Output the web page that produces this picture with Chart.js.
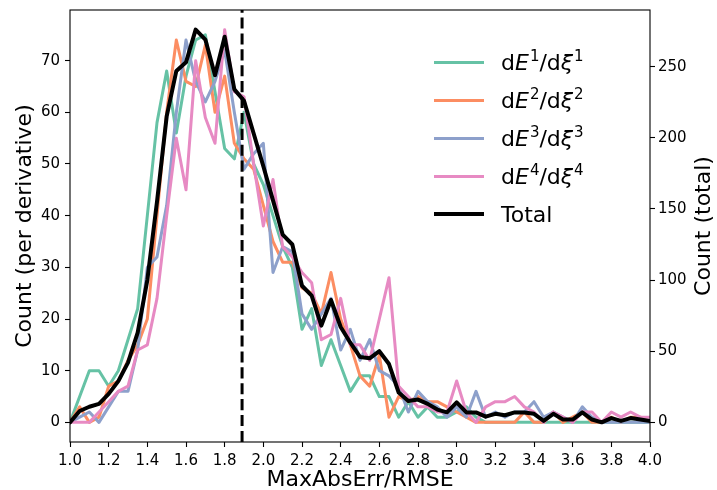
<!DOCTYPE html>
<html>
<head>
<meta charset="utf-8">
<script src="https://cdn.jsdelivr.net/npm/chart.js@4/dist/chart.umd.min.js"></script>
<style>
  html, body { margin: 0; padding: 0; background: #fff; }
  #wrap { position: relative; width: 717px; height: 490px; }
  #legend { position: absolute; left: 434px; top: 43px; font-family: "DejaVu Sans"; font-size: 22px; color: #000; }
  .row { display: flex; align-items: center; height: 38px; white-space: nowrap; }
  .swatch { width: 50px; margin-right: 17px; }
  .sup { font-size: 15px; position: relative; top: -9px; margin-left: 1px; }
  .it { font-style: italic; }
</style>
</head>
<body>
<div id="wrap">
  <canvas id="c" width="717" height="490"></canvas>
  <div id="legend"></div>
</div>
<script>
// Histogram bin positions of MaxAbsErr/RMSE
const bins = [1.00,1.05,1.10,1.15,1.20,1.25,1.30,1.35,1.40,1.45,1.50,1.55,1.60,1.65,1.70,1.75,1.80,1.85,1.90,1.95,
              2.00,2.05,2.10,2.15,2.20,2.25,2.30,2.35,2.40,2.45,2.50,2.55,2.60,2.65,2.70,2.75,2.80,2.85,2.90,2.95,
              3.00,3.05,3.10,3.15,3.20,3.25,3.30,3.35,3.40,3.45,3.50,3.55,3.60,3.65,3.70,3.75,3.80,3.85,3.90,3.95,4.00];

// Counts per derivative
const countD1 = [0,5,10,10,7,10,16,22,40,58,68,56,67,74,75,64,53,51,60,50,
                 46,40,34,30,18,22,11,16,11,6,9,9,5,5,1,4,1,3,1,1,
                 2,3,1,0,0,0,0,0,0,0,0,0,0,0,0,0,0,0,0,0,0];
const countD2 = [0,3,0,1,7,8,12,15,20,40,60,74,66,65,73,60,67,54,51,49,
                 42,35,31,31,26,25,21,29,20,15,9,7,13,1,5,4,5,4,4,3,
                 2,1,0,0,0,0,0,2,0,0,2,0,1,2,0,0,1,0,1,1,0];
const countD3 = [0,1,2,0,3,6,6,14,30,32,42,60,74,66,62,66,72,60,49,52,
                 54,29,34,33,21,18,21,24,14,18,12,16,10,9,7,2,6,4,3,1,
                 3,1,6,1,2,1,2,2,4,1,2,1,0,3,1,0,0,0,0,0,0];
const countD4 = [0,0,0,2,4,6,7,14,15,24,40,55,45,70,59,54,76,64,63,50,
                 38,47,34,32,29,27,16,17,24,15,15,12,20,28,7,5,3,3,2,2,
                 8,2,0,3,4,4,5,3,2,0,2,1,0,2,2,0,2,1,2,1,1];
// Total count over all derivatives
const countTotal = [0,8,11,13,20,29,42,63,100,155,215,247,253,276,269,244,271,234,226,203,
                    180,156,132,125,96,89,68,86,67,56,46,45,50,41,21,15,16,13,9,7,
                    14,7,7,4,6,5,7,7,6,1,6,2,2,7,2,0,3,1,3,2,1];

// Vertical reference threshold
const threshold = 1.89;

// Tick labels
const xTicks = [1.0,1.2,1.4,1.6,1.8,2.0,2.2,2.4,2.6,2.8,3.0,3.2,3.4,3.6,3.8,4.0];
const yLeftTicks = [0,10,20,30,40,50,60,70];
const yRightTicks = [0,50,100,150,200,250];

const FONT = '"DejaVu Sans"';
const pts = arr => arr.map((v, i) => ({ x: bins[i], y: v }));

const seriesDefs = [
  { k: '1', data: countD1, color: '#66c2a5', order: 4 },
  { k: '2', data: countD2, color: '#fc8d62', order: 3 },
  { k: '3', data: countD3, color: '#8da0cb', order: 2 },
  { k: '4', data: countD4, color: '#e78ac3', order: 1 },
];

const datasets = seriesDefs.map(s => ({
  label: 'dE' + s.k + '/dξ' + s.k,
  idx: s.k,
  data: pts(s.data),
  borderColor: s.color,
  backgroundColor: s.color,
  borderWidth: 3,
  pointRadius: 0,
  tension: 0,
  borderJoinStyle: 'round',
  borderCapStyle: 'round',
  yAxisID: 'y',
  order: s.order,
  clip: 0
}));
datasets.push({
  label: 'Total',
  data: pts(countTotal),
  borderColor: '#000',
  backgroundColor: '#000',
  borderWidth: 4,
  pointRadius: 0,
  tension: 0,
  borderJoinStyle: 'round',
  borderCapStyle: 'round',
  yAxisID: 'y2',
  order: 0,
  clip: 0
});

const tickFont = { family: FONT, size: 15 };
const tickGrid = { drawOnChartArea: false, drawTicks: true, tickLength: 5, tickColor: '#000', tickWidth: 1.1 };

// Fixed scale sizes so the plot area sits at a set place
const fixSize = (w, h) => s => {
  if (w !== null) s.width = w;
  if (h !== null) s.height = h;
  s.paddingTop = 0; s.paddingBottom = 0; s.paddingLeft = 0; s.paddingRight = 0;
};

// Frame, dashed threshold and axis titles
const decor = {
  id: 'decor',
  afterDatasetsDraw(chart) {
    const { ctx, chartArea: a, scales } = chart;
    const xp = scales.x.getPixelForValue(threshold);
    ctx.save();
    ctx.beginPath();
    ctx.rect(a.left, a.top, a.right - a.left, a.bottom - a.top);
    ctx.clip();
    ctx.strokeStyle = '#000';
    ctx.lineWidth = 3;
    ctx.setLineDash([11.1, 4.8]);
    ctx.beginPath();
    ctx.moveTo(xp, a.bottom);
    ctx.lineTo(xp, a.top);
    ctx.stroke();
    ctx.restore();
  },
  afterDraw(chart) {
    const { ctx, chartArea: a } = chart;
    ctx.save();
    ctx.strokeStyle = '#000';
    ctx.lineWidth = 1.1;
    ctx.strokeRect(a.left, a.top, a.right - a.left, a.bottom - a.top);
    ctx.fillStyle = '#000';
    ctx.font = '22px ' + FONT;
    ctx.textAlign = 'center';
    ctx.textBaseline = 'middle';
    const cy = (a.top + a.bottom) / 2;
    ctx.fillText('MaxAbsErr/RMSE', (a.left + a.right) / 2, 480);
    ctx.save();
    ctx.translate(25, cy);
    ctx.rotate(-Math.PI / 2);
    ctx.fillText('Count (per derivative)', 0, 0);
    ctx.restore();
    ctx.save();
    ctx.translate(704, cy);
    ctx.rotate(-Math.PI / 2);
    ctx.fillText('Count (total)', 0, 0);
    ctx.restore();
    ctx.restore();
  }
};

const chart = new Chart(document.getElementById('c'), {
  type: 'line',
  data: { datasets },
  plugins: [decor],
  options: {
    responsive: false,
    animation: false,
    devicePixelRatio: 1,
    events: [],
    layout: { padding: { top: 10, left: 0, right: 0, bottom: 0 } },
    plugins: { legend: { display: false }, tooltip: { enabled: false }, title: { display: false } },
    scales: {
      x: {
        type: 'linear', min: 1, max: 4,
        afterBuildTicks: s => { s.ticks = xTicks.map(v => ({ value: v })); },
        afterFit: fixSize(null, 48),
        ticks: { callback: v => Number(v).toFixed(1), font: tickFont, color: '#000', padding: 5, maxRotation: 0, autoSkip: false },
        grid: tickGrid,
        border: { display: false }
      },
      y: {
        position: 'left', min: -3.8, max: 79.8,
        afterBuildTicks: s => { s.ticks = yLeftTicks.map(v => ({ value: v })); },
        afterFit: fixSize(70, null),
        ticks: { font: tickFont, color: '#000', padding: 5 },
        grid: tickGrid,
        border: { display: false }
      },
      y2: {
        position: 'right', min: -13.8, max: 289.8,
        afterBuildTicks: s => { s.ticks = yRightTicks.map(v => ({ value: v })); },
        afterFit: fixSize(67, null),
        ticks: { font: tickFont, color: '#000', padding: 3 },
        grid: tickGrid,
        border: { display: false }
      }
    }
  }
});

// Legend with math-styled labels, built from the datasets
const legendEl = document.getElementById('legend');
chart.data.datasets.forEach(ds => {
  const row = document.createElement('div');
  row.className = 'row';
  const sw = document.createElement('span');
  sw.className = 'swatch';
  sw.style.height = ds.borderWidth + 'px';
  sw.style.background = ds.borderColor;
  row.appendChild(sw);
  const txt = document.createElement('span');
  if (ds.idx) {
    txt.innerHTML = 'd<span class="it">E</span><span class="sup">' + ds.idx + '</span>/d<span class="it">ξ</span><span class="sup">' + ds.idx + '</span>';
  } else {
    txt.textContent = ds.label;
  }
  row.appendChild(txt);
  legendEl.appendChild(row);
});
</script>
</body>
</html>
